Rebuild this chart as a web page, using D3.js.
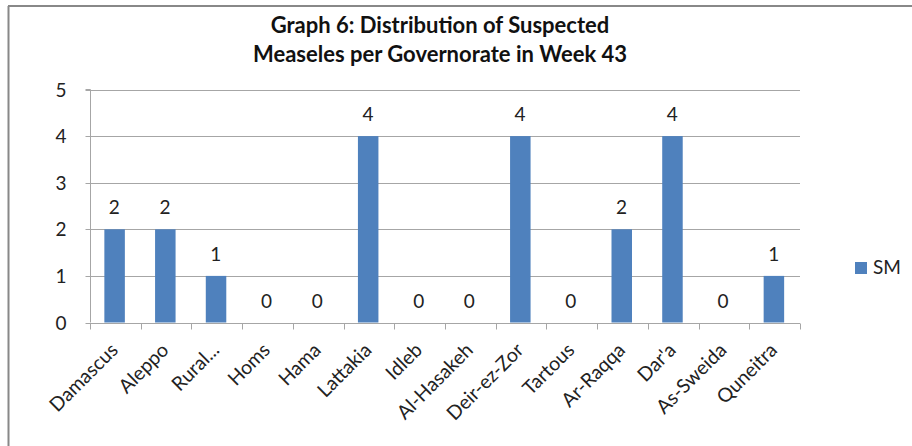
<!DOCTYPE html>
<html><head><meta charset="utf-8">
<script src="https://cdn.jsdelivr.net/npm/d3@7/dist/d3.min.js"></script>
<style>body{margin:0;background:#fff}svg{display:block}text{font-family:Lato,"Open Sans",sans-serif}</style>
</head><body>
<script>
const categories = ["Damascus","Aleppo","Rural...","Homs","Hama","Lattakia","Idleb","Al-Hasakeh","Deir-ez-Zor","Tartous","Ar-Raqqa","Dar'a","As-Sweida","Quneitra"];
const smValues = [2,2,1,0,0,4,0,0,4,0,2,4,0,1];
const yTicks = [0,1,2,3,4,5];
const seriesName = "SM";
const titleLines = ["Graph 6: Distribution of Suspected","Measeles per Governorate in Week 43"];

const W = 912, H = 446;
const m = {left: 90, right: 112, top: 89.5, bottom: 123.5};
const svg = d3.select("body").append("svg").attr("width", W).attr("height", H);

// outer frame
svg.append("line").attr("x1", 8.5).attr("x2", 8.5).attr("y1", 6).attr("y2", H).attr("stroke", "#888").attr("stroke-width", 2);
svg.append("line").attr("x1", 8).attr("x2", W).attr("y1", 6).attr("y2", 6).attr("stroke", "#888").attr("stroke-width", 2);

const xBand = d3.scaleBand().domain(categories).range([m.left, W - m.right]);
const y = d3.scaleLinear().domain([0, 5]).range([H - m.bottom, m.top]);

// gridlines
svg.append("g").selectAll("line").data(yTicks.slice(1)).join("line")
  .attr("x1", m.left).attr("x2", W - m.right)
  .attr("y1", d => Math.round(y(d)) + 0.5).attr("y2", d => Math.round(y(d)) + 0.5)
  .attr("stroke", "#a6a6a6").attr("stroke-width", 1);

// bars
svg.append("g").selectAll("rect").data(categories).join("rect")
  .attr("x", (d) => xBand(d) + xBand.bandwidth()/2 - 11)
  .attr("width", 20.5)
  .attr("y", (d, i) => y(smValues[i]))
  .attr("height", (d, i) => y(0) - y(smValues[i]))
  .attr("fill", "#4f81bd");

// y axis
const yAxis = d3.axisLeft(y).tickValues(yTicks).tickSize(5).tickPadding(19).tickFormat(d3.format("d"));
const gy = svg.append("g").attr("transform", `translate(${m.left + 0.5},0)`).call(yAxis);
gy.select(".domain").attr("stroke", "#a6a6a6").attr("d", `M-5,${y(5)}H0V${y(0)}`);
gy.selectAll(".tick line").attr("stroke", "#a6a6a6");
gy.selectAll(".tick text").attr("font-size", 19).attr("fill", "#222").attr("dy", "0.35em").style("font-family", "Lato, sans-serif");
gy.selectAll(".tick").attr("transform", d => `translate(0,${Math.round(y(d)) + 0.5})`);

// x axis
const gx = svg.append("g").attr("transform", `translate(0,${Math.round(y(0)) + 0.5})`);
gx.append("line").attr("x1", m.left).attr("x2", W - m.right).attr("stroke", "#a6a6a6");
const bounds = categories.map(c => xBand(c)).concat([W - m.right]);
gx.selectAll("line.tk").data(bounds).join("line").attr("class", "tk")
  .attr("x1", d => Math.round(d) + 0.5).attr("x2", d => Math.round(d) + 0.5)
  .attr("y1", 0).attr("y2", 6).attr("stroke", "#a6a6a6");
gx.selectAll("text").data(categories).join("text")
  .attr("transform", d => `translate(${xBand(d) + xBand.bandwidth()/2 - 1},${23}) rotate(-45)`)
  .attr("text-anchor", "end").attr("font-size", 19.5).attr("fill", "#222").attr("dy", "0.35em")
  .text(d => d);

// data labels
svg.append("g").selectAll("text").data(categories).join("text")
  .attr("x", d => xBand(d) + xBand.bandwidth()/2 - 1)
  .attr("y", (d, i) => y(smValues[i]) - 15)
  .attr("text-anchor", "middle").attr("font-size", 19).attr("fill", "#222")
  .text((d, i) => smValues[i]);

// title
svg.append("g").selectAll("text").data(titleLines).join("text")
  .attr("x", 440).attr("y", (d, i) => 33 + i * 29)
  .attr("text-anchor", "middle").attr("font-size", 22).attr("font-weight", "bold").attr("fill", "#111")
  .text(d => d);

// legend
const lg = svg.append("g").attr("transform", "translate(855,262)");
lg.append("rect").attr("width", 12).attr("height", 12).attr("fill", "#4f81bd");
lg.append("text").attr("x", 18).attr("y", 12).attr("font-size", 19).attr("fill", "#222").text(seriesName);
</script>
</body></html>
